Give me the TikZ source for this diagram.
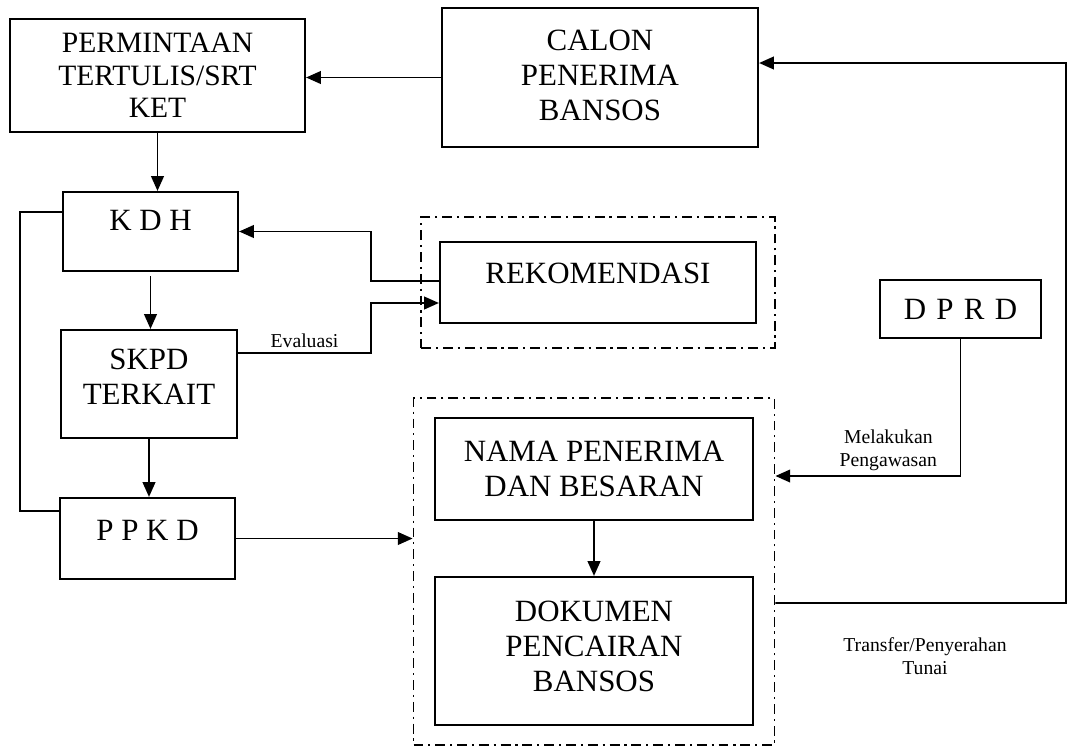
\documentclass[tikz,border=0pt]{standalone}
\usepackage{fontspec}
\setmainfont{Liberation Serif}
\usetikzlibrary{arrows.meta,fit,calc}
\begin{document}
\begin{tikzpicture}[x=0.025cm, y=-0.025cm,
        box/.style={draw, line width=1.5pt, inner sep=2pt, align=center, font=\fontsize{22}{25}\selectfont},
        frame/.style={draw, line width=1.3pt, dash pattern=on 7pt off 3.5pt on 1.5pt off 3.5pt},
        arr/.style={draw, -{Triangle[length=10.5pt,width=9pt]}, line width=1.3pt},
        lbl/.style={align=center, font=\fontsize{14}{16}\selectfont}]
        \useasboundingbox (0,0) rectangle (1068,751);

        \node[box, minimum width=7.375cm, minimum height=2.825cm, font=\fontsize{21}{23}\selectfont] (perm) at (157.5,75.5) {PERMINTAAN\\TERTULIS/SRT\\KET};
        \node[box, minimum width=7.9cm, minimum height=3.475cm, text depth=3.5pt] (calon) at (600,77.5) {CALON\\PENERIMA\\BANSOS};
        \node[box, minimum width=4.375cm, minimum height=1.975cm, text depth=16pt] (kdh) at (150.5,231.5) {K D H};
        \node[box, minimum width=4.4cm, minimum height=2.7cm, text depth=10.5pt] (skpd) at (149,384) {SKPD\\TERKAIT};
        \node[box, minimum width=4.375cm, minimum height=2.025cm, text depth=12pt] (ppkd) at (147.5,538.5) {P P K D};
        \node[box, minimum width=7.9cm, minimum height=2.025cm, text depth=13.5pt] (rekom) at (598,282.5) {REKOMENDASI};
        \node[box, minimum width=4.025cm, minimum height=1.45cm] (dprd) at (960.5,309) {D\,\,P\,\,R\,\,D};
        \node[box, minimum width=7.95cm, minimum height=2.55cm] (nama) at (594,469) {NAMA PENERIMA\\DAN BESARAN};
        \node[box, minimum width=7.95cm, minimum height=3.7cm, text depth=7pt] (dok) at (594,651) {DOKUMEN\\PENCAIRAN\\BANSOS};

        \node[frame, fit=(rekom), inner xsep=0.44cm, inner ysep=0.59cm] (topframe) {};
        \node[frame, fit=(nama)(dok), inner xsep=0.51cm, inner ysep=0.475cm] (botframe) {};

        \coordinate (evx) at (371,0);
        \coordinate (ev) at ($(skpd.east)+(0,-31)$);
        \coordinate (rt) at (1066,603);

        \draw[arr] (calon.west) -- (calon.west -| perm.east);
        \draw[arr] (perm.south) -- (perm.south |- kdh.north);
        \draw[arr, shorten <=3pt] (kdh.south) -- (kdh.south |- skpd.north);
        \draw[arr] (skpd.south) -- (skpd.south |- ppkd.north);
        \draw[arr] (ppkd.east) -- (ppkd.east -| botframe.west);
        \draw[arr] (nama.south) -- (dok.north);

        \draw[line width=1.3pt] ($(kdh.west)+(0,-19.5)$) -- ++(-42,0) |- ($(ppkd.west)+(0,-27.5)$);
        \draw[arr] ($(rekom.west)+(0,-1.5)$) -| (evx |- kdh.east) -- (kdh.east);
        \draw[arr] (ev) -- node[lbl, above] {Evaluasi} (evx |- ev) |- ($(rekom.west)+(0,20.5)$);
        \draw[arr] (dprd.south) |- node[lbl, pos=0.695, above] {Melakukan\\Pengawasan} ($(botframe.east)+(0,-95.5)$);
        \draw[arr] ($(botframe.east)+(0,31.5)$) -- (rt) |- ($(calon.east)+(0,-14.5)$);

        \node[lbl] (trf) at (925,656) {Transfer/Penyerahan\\Tunai};
    \end{tikzpicture}
\end{document}
